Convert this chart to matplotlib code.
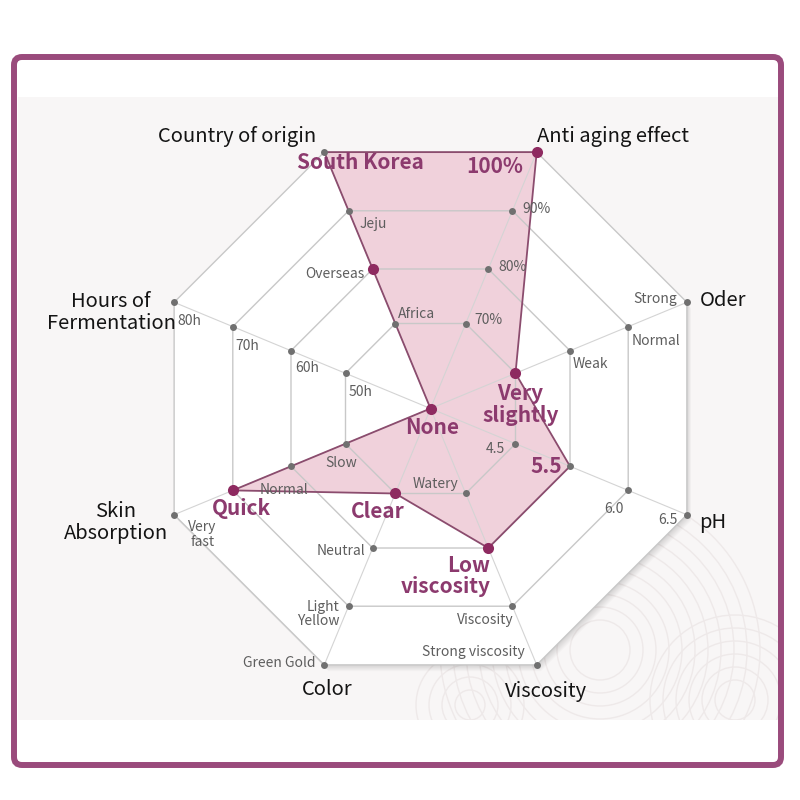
import matplotlib
matplotlib.use('Agg')
import matplotlib.pyplot as plt
from matplotlib.patches import Polygon, FancyBboxPatch, Rectangle, Circle
import numpy as np

plt.rcParams['font.family'] = ['Noto Sans CJK KR', 'DejaVu Sans']

# axes of the radar, clockwise from top-left
axis_names = ['Country of origin', 'Anti aging effect', 'Oder', 'pH',
              'Viscosity', 'Color', 'Skin\nAbsorption', 'Hours of\nFermentation']
axis_angles = [112.5, 67.5, 22.5, -22.5, -67.5, -112.5, -157.5, 157.5]

# labels of levels 1..4 on every axis (level 0 is the centre)
level_labels = [
    ['Africa', 'Overseas', 'Jeju', 'South Korea'],
    ['70%', '80%', '90%', '100%'],
    ['Very\nslightly', 'Weak', 'Normal', 'Strong'],
    ['4.5', '5.5', '6.0', '6.5'],
    ['Watery', 'Low\nviscosity', 'Viscosity', 'Strong viscosity'],
    ['Clear', 'Neutral', 'Light\nYellow', 'Green Gold'],
    ['Slow', 'Normal', 'Quick', 'Very\nfast'],
    ['50h', '60h', '70h', '80h'],
]
centre_label = 'None'

# product level on each axis (0 = centre)
product_levels = [4, 4, 1, 2, 2, 1, 3, 0]
# levels carrying the big purple markers
marker_levels = [2, 4, 1, None, 2, 1, 3, 0]

# ---- layout / style ----
CX, CY = 430.5, 408.5
ring_r = [0, 92, 151, 214, 277.5]
PURPLE = '#8c3a6e'
DOT_PURPLE = '#8e2a60'
GRAY_TXT = '#5e5e5e'

# label offsets from the dot (pixels) and alignment
label_pos = {
    (0, 1): (3, -10, 'left'), (0, 2): (-8, 5, 'right'), (0, 3): (11, 13, 'left'), (0, 4): (36, 10, 'center'),
    (1, 1): (9, -4, 'left'), (1, 2): (10, -2, 'left'), (1, 3): (10, -2, 'left'), (1, 4): (-14, 14, 'right'),
    (2, 1): (5, 31, 'center'), (2, 2): (3, 13, 'left'), (2, 3): (3, 14, 'left'), (2, 4): (-10, -3, 'right'),
    (3, 1): (-10, 5, 'right'), (3, 2): (-8, 0, 'right'), (3, 3): (-14, 19, 'center'), (3, 4): (-9, 5, 'right'),
    (4, 1): (-7, -9, 'right'), (4, 2): (2, 28, 'right'), (4, 3): (1, 14, 'right'), (4, 4): (-12, -13, 'right'),
    (5, 1): (-18, 18, 'center'), (5, 2): (-7, 3, 'right'), (5, 3): (-9, 8, 'right'), (5, 4): (-9, -2, 'right'),
    (6, 1): (-4, 19, 'center'), (6, 2): (-7, 24, 'center'), (6, 3): (9, 18, 'center'), (6, 4): (28, 20, 'center'),
    (7, 1): (3, 19, 'left'), (7, 2): (4, 17, 'left'), (7, 3): (3, 19, 'left'), (7, 4): (3, 19, 'left'),
}
title_pos = [(-87, -16), (76, -16), (36, -2), (26, 8), (9, 27), (3, 25), (-58, 8), (-63, 10)]


def pt(i, level):
    a = np.deg2rad(axis_angles[i])
    r = ring_r[level]
    return CX + r * np.cos(a), CY - r * np.sin(a)


fig = plt.figure(figsize=(8, 8), dpi=100)
ax = fig.add_axes([0, 0, 1, 1])
ax.set_xlim(0, 800)
ax.set_ylim(800, 0)
ax.axis('off')

# background band + faint shell texture
band = Rectangle((18, 97), 762, 623, facecolor='#f8f6f6', edgecolor='none', zorder=0)
ax.add_patch(band)
for (sx, sy, r0, r1) in [(600, 650, 30, 170), (735, 700, 20, 90), (470, 705, 15, 60)]:
    for rr in np.arange(r0, r1, 13):
        c = Circle((sx, sy), rr, fill=False, edgecolor='#eee9e9', lw=1.0, zorder=0.5)
        ax.add_patch(c)
        c.set_clip_path(band)

# rings: shadow + white plate, outer to inner
for k in [4, 3, 2, 1]:
    poly = np.array([pt(i, k) for i in range(8)])
    for s in range(1, 8):
        ax.add_patch(Polygon(poly + np.array([s * 0.6, s * 0.9]), closed=True,
                             facecolor='black', alpha=0.02, edgecolor='none', zorder=1))
    ax.add_patch(Polygon(poly, closed=True, facecolor='white', edgecolor='none', zorder=1.1))

# product area fill
data_poly = np.array([pt(i, lv) for i, lv in enumerate(product_levels)])
ax.add_patch(Polygon(data_poly, closed=True, facecolor='#e6b3c4', alpha=0.6,
                     edgecolor='none', zorder=2))

# ring outlines and spokes
for k in [1, 2, 3, 4]:
    poly = np.array([pt(i, k) for i in range(8)])
    ax.add_patch(Polygon(poly, closed=True, fill=False, edgecolor='#c8c8c8', lw=1.0, zorder=3))
for i in range(8):
    x0, y0 = pt(i, 0)
    x1, y1 = pt(i, 4)
    ax.plot([x0, x1], [y0, y1], color='#d4d4d4', lw=0.8, zorder=3)

# product outline
ax.add_patch(Polygon(data_poly, closed=True, fill=False, edgecolor='#8b4c6e', lw=1.3, zorder=4))

# level dots
for i in range(8):
    xs, ys = zip(*[pt(i, k) for k in range(1, 5)])
    ax.plot(xs, ys, 'o', color='#707070', ms=5, mec='none', zorder=5)
for i, lv in enumerate(marker_levels):
    if lv is None:
        continue
    x, y = pt(i, lv)
    ax.plot(x, y, 'o', color=DOT_PURPLE, ms=8, mec='none', zorder=6)

# level labels
for i in range(8):
    for k in range(1, 5):
        dx, dy, ha = label_pos[(i, k)]
        x, y = pt(i, k)
        hit = product_levels[i] == k
        ax.text(x + dx, y + dy, level_labels[i][k - 1], ha=ha, va='center',
                multialignment=ha,
                fontsize=15 if hit else 10, fontweight='bold' if hit else 'normal',
                color=PURPLE if hit else GRAY_TXT, linespacing=1.05, zorder=7)
ax.text(CX + 1.5, CY + 18.5, centre_label, ha='center', va='center', fontsize=15,
        fontweight='bold', color=PURPLE, zorder=7)

# axis titles
for i in range(8):
    x, y = pt(i, 4)
    dx, dy = title_pos[i]
    ax.text(x + dx, y + dy, axis_names[i], ha='center', va='center', fontsize=14.5,
            color='#141414', linespacing=1.1, zorder=7)

# frame
ax.add_patch(FancyBboxPatch((14, 57), 767, 708, boxstyle='round,pad=0,rounding_size=8',
                            fill=False, edgecolor='#9a4b7c', lw=4.3, zorder=10))

fig.savefig('out.png', dpi=100)
